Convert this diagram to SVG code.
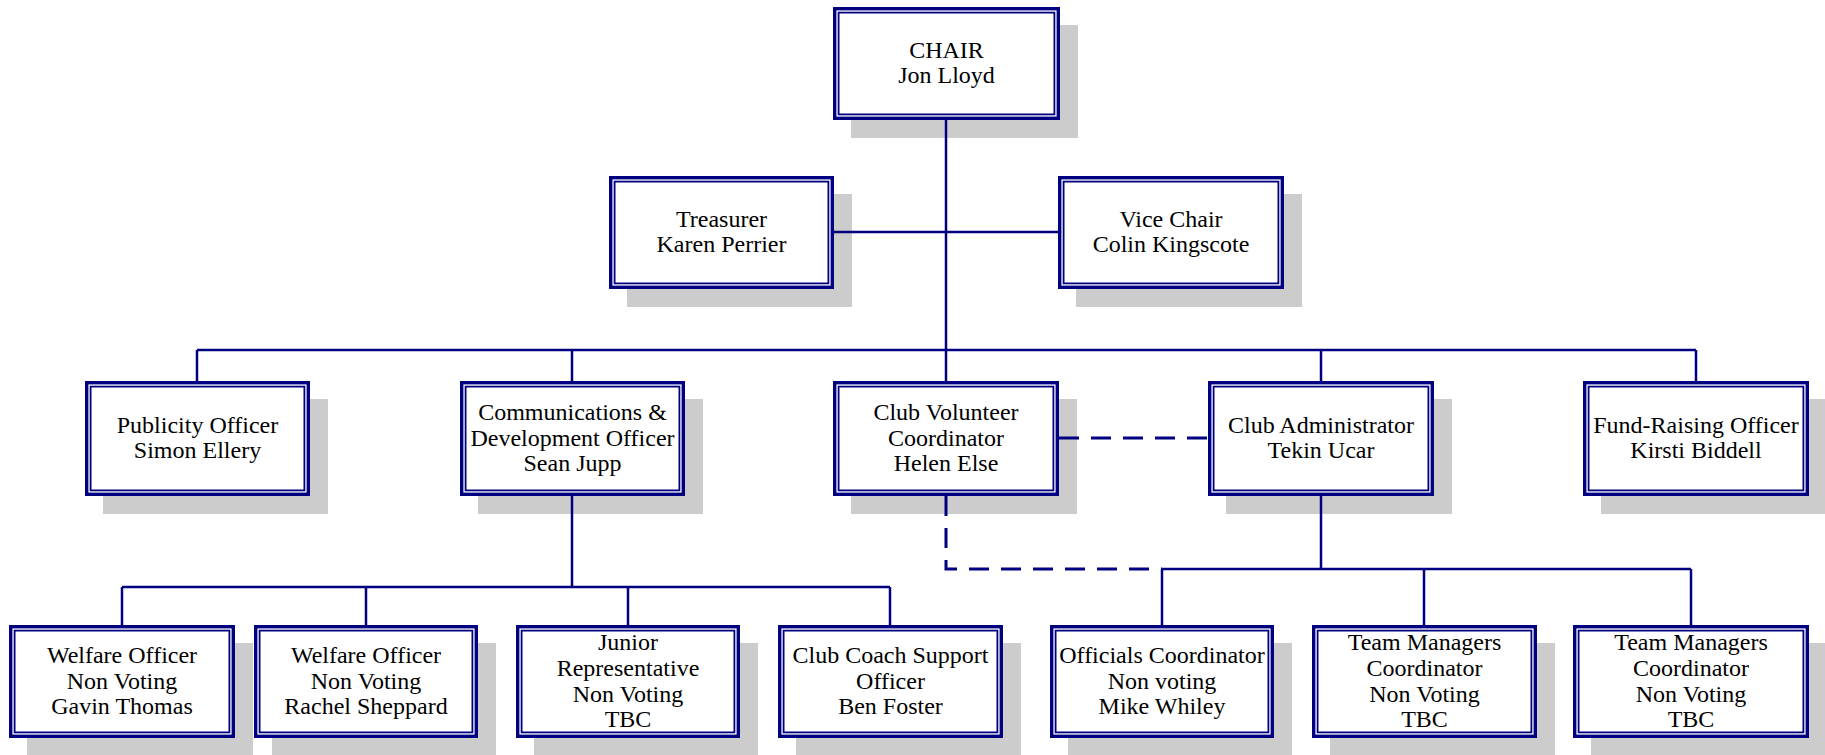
<svg xmlns="http://www.w3.org/2000/svg" width="1825" height="755" viewBox="0 0 1825 755">
<style>
.sh{fill:#cccccc}
.o{fill:#ffffff;stroke:#000080;stroke-width:3.4}
.i{fill:none;stroke:#000080;stroke-width:1.8}
.t{font-family:"Liberation Serif","Times New Roman",serif;font-size:24px;fill:#000000;text-anchor:middle}
.c{fill:none;stroke:#000080;stroke-width:2.5}
.d{fill:none;stroke:#000080;stroke-width:3;stroke-dasharray:20 12}
</style>
<rect width="1825" height="755" fill="#ffffff"/>
<!-- shadows -->
<g id="shadows">
<rect class="sh" x="851" y="25" width="227" height="113"/>
<rect class="sh" x="627" y="194" width="225" height="113"/>
<rect class="sh" x="1076" y="194" width="226" height="113"/>
<rect class="sh" x="103" y="399" width="225" height="115"/>
<rect class="sh" x="478" y="399" width="225" height="115"/>
<rect class="sh" x="851" y="399" width="226" height="115"/>
<rect class="sh" x="1226" y="399" width="226" height="115"/>
<rect class="sh" x="1601" y="399" width="226" height="115"/>
<rect class="sh" x="27" y="643" width="226" height="113"/>
<rect class="sh" x="272" y="643" width="224" height="113"/>
<rect class="sh" x="534" y="643" width="224" height="113"/>
<rect class="sh" x="796" y="643" width="225" height="113"/>
<rect class="sh" x="1068" y="643" width="224" height="113"/>
<rect class="sh" x="1330" y="643" width="225" height="113"/>
<rect class="sh" x="1591" y="643" width="236" height="113"/>
</g>
<g id="connectors">
<path class="c" d="M946 120V350M834 232H1058M197 350H1696M197 350V381M572 350V381M946 350V381M1321 350V381M1696 350V381"/>
<path class="c" d="M572 496V587M122 587H890M122 587V625M366 587V625M628 587V625M890 587V625"/>
<path class="c" d="M1321 496V569M1162 569H1691M1162 569V625M1424 569V625M1691 569V625"/>
<path class="d" d="M946 496V569H1162"/>
<path class="d" d="M1059 438H1208"/>
</g>
<g id="chair">
<rect class="o" x="834.7" y="8.7" width="223.6" height="109.6"/>
<rect class="i" x="838.6" y="12.6" width="215.8" height="101.8"/>
<text class="t" x="946.5" y="57.6">CHAIR</text>
<text class="t" x="946.5" y="83.3">Jon Lloyd</text>
</g>
<g id="treasurer">
<rect class="o" x="610.7" y="177.7" width="221.6" height="109.6"/>
<rect class="i" x="614.6" y="181.6" width="213.8" height="101.8"/>
<text class="t" x="721.5" y="226.6">Treasurer</text>
<text class="t" x="721.5" y="252.3">Karen Perrier</text>
</g>
<g id="vice-chair">
<rect class="o" x="1059.7" y="177.7" width="222.6" height="109.6"/>
<rect class="i" x="1063.6" y="181.6" width="214.8" height="101.8"/>
<text class="t" x="1171" y="226.6">Vice Chair</text>
<text class="t" x="1171" y="252.3">Colin Kingscote</text>
</g>
<g id="publicity">
<rect class="o" x="86.7" y="382.7" width="221.6" height="111.6"/>
<rect class="i" x="90.6" y="386.6" width="213.8" height="103.8"/>
<text class="t" x="197.5" y="432.6">Publicity Officer</text>
<text class="t" x="197.5" y="458.3">Simon Ellery</text>
</g>
<g id="comms">
<rect class="o" x="461.7" y="382.7" width="221.6" height="111.6"/>
<rect class="i" x="465.6" y="386.6" width="213.8" height="103.8"/>
<text class="t" x="572.5" y="420">Communications &amp;</text>
<text class="t" x="572.5" y="445.7">Development Officer</text>
<text class="t" x="572.5" y="471.4">Sean Jupp</text>
</g>
<g id="volunteer">
<rect class="o" x="834.7" y="382.7" width="222.6" height="111.6"/>
<rect class="i" x="838.6" y="386.6" width="214.8" height="103.8"/>
<text class="t" x="946" y="420">Club Volunteer</text>
<text class="t" x="946" y="445.7">Coordinator</text>
<text class="t" x="946" y="471.4">Helen Else</text>
</g>
<g id="administrator">
<rect class="o" x="1209.7" y="382.7" width="222.6" height="111.6"/>
<rect class="i" x="1213.6" y="386.6" width="214.8" height="103.8"/>
<text class="t" x="1321" y="432.6">Club Administrator</text>
<text class="t" x="1321" y="458.3">Tekin Ucar</text>
</g>
<g id="fundraising">
<rect class="o" x="1584.7" y="382.7" width="222.6" height="111.6"/>
<rect class="i" x="1588.6" y="386.6" width="214.8" height="103.8"/>
<text class="t" x="1696" y="432.6">Fund-Raising Officer</text>
<text class="t" x="1696" y="458.3">Kirsti Biddell</text>
</g>
<g id="welfare1">
<rect class="o" x="10.7" y="626.7" width="222.6" height="109.6"/>
<rect class="i" x="14.6" y="630.6" width="214.8" height="101.8"/>
<text class="t" x="122" y="663">Welfare Officer</text>
<text class="t" x="122" y="688.7">Non Voting</text>
<text class="t" x="122" y="714.4">Gavin Thomas</text>
</g>
<g id="welfare2">
<rect class="o" x="255.7" y="626.7" width="220.6" height="109.6"/>
<rect class="i" x="259.6" y="630.6" width="212.8" height="101.8"/>
<text class="t" x="366" y="663">Welfare Officer</text>
<text class="t" x="366" y="688.7">Non Voting</text>
<text class="t" x="366" y="714.4">Rachel Sheppard</text>
</g>
<g id="junior">
<rect class="o" x="517.7" y="626.7" width="220.6" height="109.6"/>
<rect class="i" x="521.6" y="630.6" width="212.8" height="101.8"/>
<text class="t" x="628" y="650.1">Junior</text>
<text class="t" x="628" y="675.8">Representative</text>
<text class="t" x="628" y="701.5">Non Voting</text>
<text class="t" x="628" y="727.2">TBC</text>
</g>
<g id="coach">
<rect class="o" x="779.7" y="626.7" width="221.6" height="109.6"/>
<rect class="i" x="783.6" y="630.6" width="213.8" height="101.8"/>
<text class="t" x="890.5" y="663">Club Coach Support</text>
<text class="t" x="890.5" y="688.7">Officer</text>
<text class="t" x="890.5" y="714.4">Ben Foster</text>
</g>
<g id="officials">
<rect class="o" x="1051.7" y="626.7" width="220.6" height="109.6"/>
<rect class="i" x="1055.6" y="630.6" width="212.8" height="101.8"/>
<text class="t" x="1162" y="663">Officials Coordinator</text>
<text class="t" x="1162" y="688.7">Non voting</text>
<text class="t" x="1162" y="714.4">Mike Whiley</text>
</g>
<g id="team-managers1">
<rect class="o" x="1313.7" y="626.7" width="221.6" height="109.6"/>
<rect class="i" x="1317.6" y="630.6" width="213.8" height="101.8"/>
<text class="t" x="1424.5" y="650.1">Team Managers</text>
<text class="t" x="1424.5" y="675.8">Coordinator</text>
<text class="t" x="1424.5" y="701.5">Non Voting</text>
<text class="t" x="1424.5" y="727.2">TBC</text>
</g>
<g id="team-managers2">
<rect class="o" x="1574.7" y="626.7" width="232.6" height="109.6"/>
<rect class="i" x="1578.6" y="630.6" width="224.8" height="101.8"/>
<text class="t" x="1691" y="650.1">Team Managers</text>
<text class="t" x="1691" y="675.8">Coordinator</text>
<text class="t" x="1691" y="701.5">Non Voting</text>
<text class="t" x="1691" y="727.2">TBC</text>
</g>
</svg>
